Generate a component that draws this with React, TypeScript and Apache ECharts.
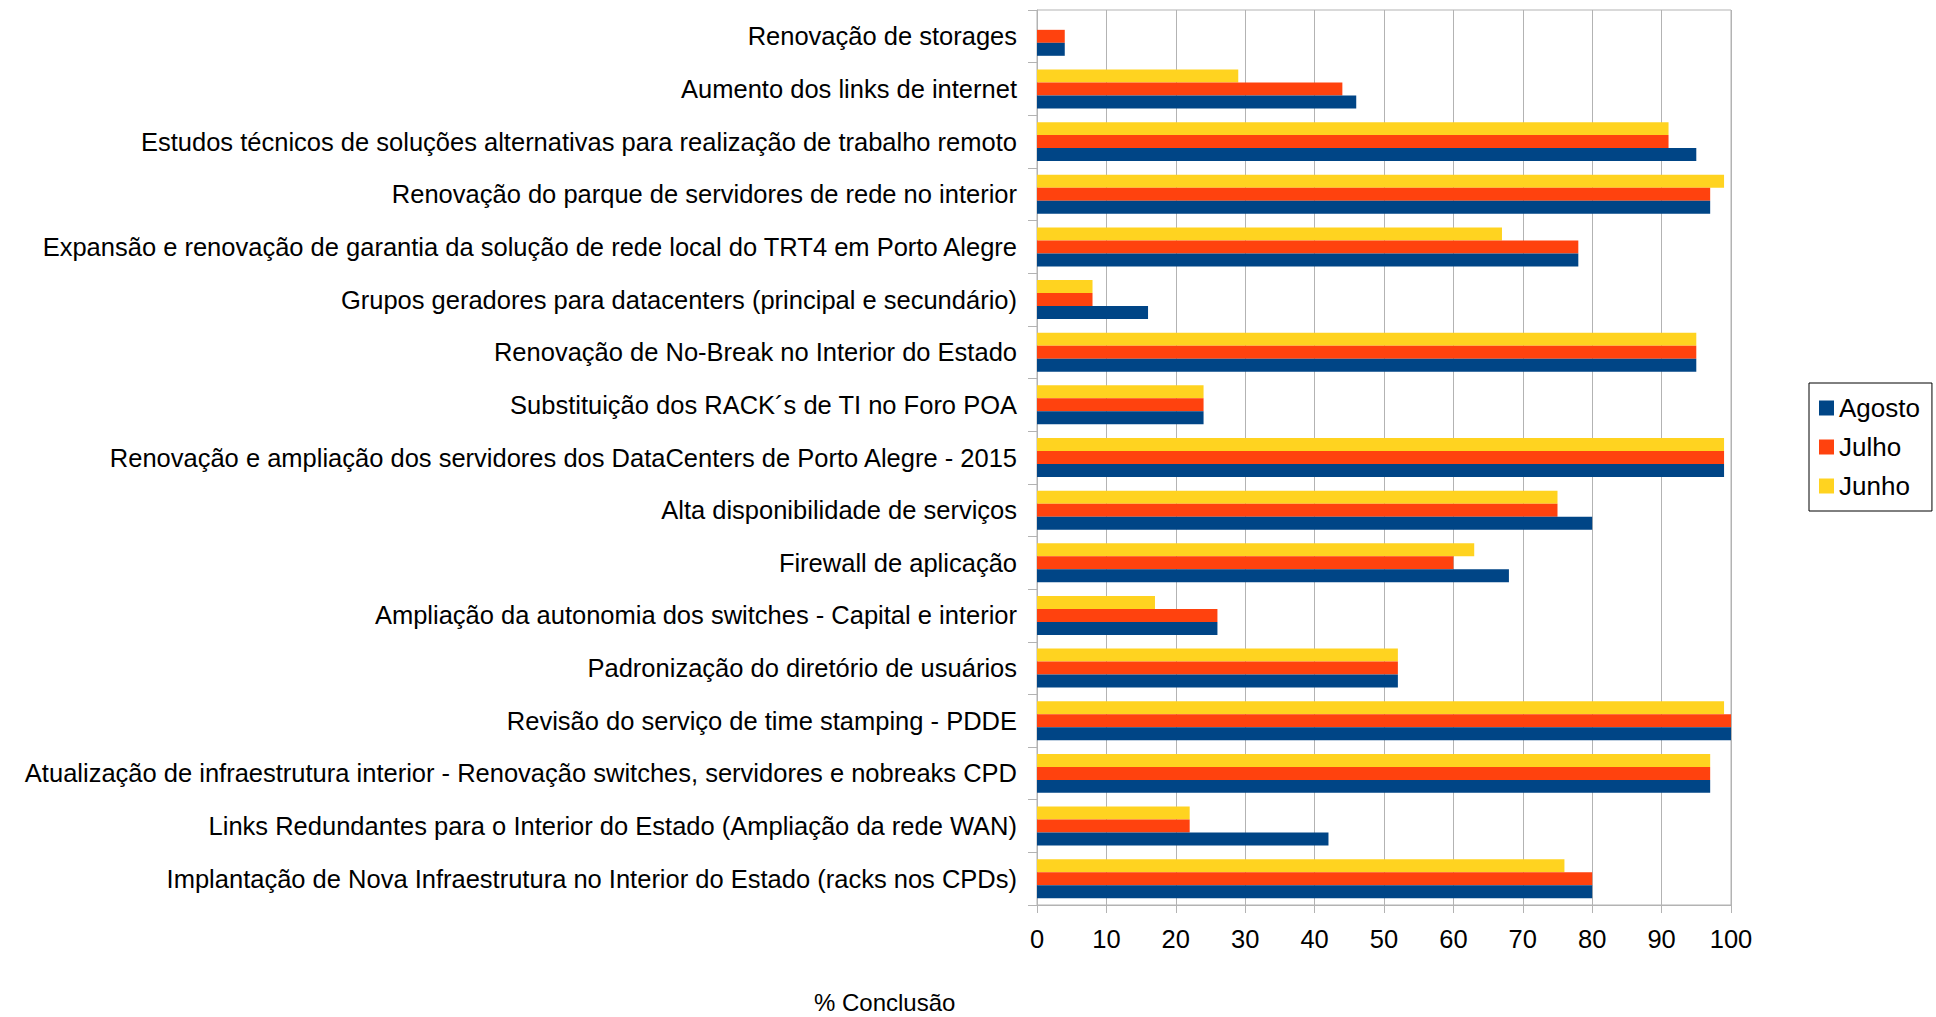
import React, { useEffect, useRef } from "react";
import * as echarts from "echarts";

const categories = [
  "Renovação de storages",
  "Aumento dos links de internet",
  "Estudos técnicos de soluções alternativas para realização de trabalho remoto",
  "Renovação do parque de servidores de rede no interior",
  "Expansão e renovação de garantia da solução de rede local do TRT4 em Porto Alegre",
  "Grupos geradores para datacenters (principal e secundário)",
  "Renovação de No-Break no Interior do Estado",
  "Substituição dos RACK´s de TI no Foro POA",
  "Renovação e ampliação dos servidores dos DataCenters de Porto Alegre - 2015",
  "Alta disponibilidade de serviços",
  "Firewall de aplicação",
  "Ampliação da autonomia dos switches - Capital e interior",
  "Padronização do diretório de usuários",
  "Revisão do serviço de time stamping - PDDE",
  "Atualização de infraestrutura interior - Renovação switches, servidores e nobreaks CPD",
  "Links Redundantes para o Interior do Estado (Ampliação da rede WAN)",
  "Implantação de Nova Infraestrutura no Interior do Estado (racks nos CPDs)",
];

const junho = [0, 29, 91, 99, 67, 8, 95, 24, 99, 75, 63, 17, 52, 99, 97, 22, 76];
const julho = [4, 44, 91, 97, 78, 8, 95, 24, 99, 75, 60, 26, 52, 100, 97, 22, 80];
const agosto = [4, 46, 95, 97, 78, 16, 95, 24, 99, 80, 68, 26, 52, 100, 97, 42, 80];

const legendOrder = ["Agosto", "Julho", "Junho"];
const xTitle = "% Conclusão";

const FONT = "'Liberation Sans', Arial, sans-serif";

export default function App() {
  const ref = useRef<HTMLDivElement>(null);
  useEffect(() => {
    if (!ref.current) return;
    const chart = echarts.init(ref.current, undefined, { renderer: "svg" });
    chart.setOption({
      animation: false,
      backgroundColor: "#ffffff",
      textStyle: { fontFamily: FONT },
      grid: {
        left: 1037,
        top: 10,
        width: 694,
        height: 895,
        show: true,
        borderColor: "#b3b3b3",
        borderWidth: 1,
        containLabel: false,
      },
      legend: {
        orient: "vertical",
        left: 1809,
        top: 383,
        data: legendOrder,
        itemWidth: 15,
        itemHeight: 15,
        itemGap: 13,
        padding: [12, 12, 12, 10],
        borderColor: "#000000",
        borderWidth: 1,
        icon: "rect",
        textStyle: { fontSize: 26, color: "#000", fontFamily: FONT },
      },
      xAxis: {
        type: "value",
        min: 0,
        max: 100,
        interval: 10,
        axisLine: { show: true, lineStyle: { color: "#b3b3b3" } },
        axisTick: { show: true, length: 8, lineStyle: { color: "#b3b3b3" } },
        splitLine: { show: true, lineStyle: { color: "#b3b3b3" } },
        axisLabel: { fontSize: 25.5, color: "#000", margin: 21, fontFamily: FONT },
      },
      yAxis: {
        type: "category",
        data: categories,
        inverse: true,
        axisLine: { show: true, lineStyle: { color: "#b3b3b3" } },
        axisTick: { show: true, length: 9, lineStyle: { color: "#b3b3b3" } },
        axisLabel: { fontSize: 25.5, color: "#000", margin: 20, fontFamily: FONT },
      },
      graphic: [
        {
          type: "text",
          left: 886 - 72,
          top: 990,
          style: { text: xTitle, fontSize: 24, fill: "#000", fontFamily: FONT },
        },
      ],
      series: [
        {
          name: "Junho",
          type: "bar",
          data: junho,
          itemStyle: { color: "#ffd320" },
          barGap: "0%",
          barCategoryGap: "26%",
        },
        {
          name: "Julho",
          type: "bar",
          data: julho,
          itemStyle: { color: "#ff420e" },
          barGap: "0%",
          barCategoryGap: "26%",
        },
        {
          name: "Agosto",
          type: "bar",
          data: agosto,
          itemStyle: { color: "#004586" },
          barGap: "0%",
          barCategoryGap: "26%",
        },
      ],
    });
    return () => chart.dispose();
  }, []);
  return (
    <div
      ref={ref}
      style={{ position: "absolute", left: 0, top: 0, width: 1936, height: 1017 }}
    />
  );
}
